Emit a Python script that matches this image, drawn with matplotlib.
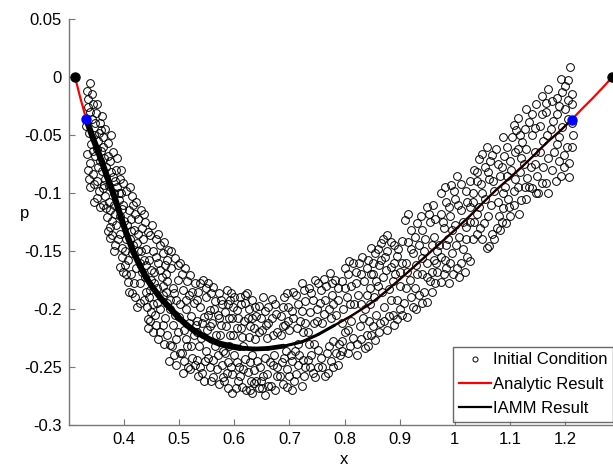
import matplotlib
matplotlib.use("Agg")
import matplotlib.pyplot as plt
from matplotlib.collections import LineCollection
import numpy as np

plt.rcParams['font.family'] = ['Liberation Sans', 'DejaVu Sans']

# ---- data ----
analytic_x = [0.311, 0.320, 0.331, 0.343, 0.3565, 0.370, 0.3837, 0.395, 0.405, 0.417, 0.429, 0.440,
              0.4525, 0.467, 0.483, 0.498, 0.514, 0.528, 0.543, 0.558, 0.574, 0.592, 0.610, 0.637,
              0.661, 0.690, 0.7225, 0.752, 0.782, 0.812, 0.842, 0.862, 0.882, 0.900, 0.918, 0.945,
              0.972, 1.000, 1.027, 1.052, 1.076, 1.100, 1.123, 1.145, 1.166, 1.190, 1.212, 1.232,
              1.250, 1.268, 1.286]
analytic_p = [0.0, -0.017, -0.036, -0.052, -0.069, -0.087, -0.105, -0.122, -0.136, -0.151, -0.163, -0.173,
              -0.182, -0.191, -0.199, -0.207, -0.214, -0.219, -0.223, -0.227, -0.230, -0.232, -0.2336, -0.2345,
              -0.234, -0.232, -0.2284, -0.222, -0.214, -0.206, -0.197, -0.190, -0.182, -0.1745, -0.167, -0.1555,
              -0.144, -0.132, -0.120, -0.108, -0.097, -0.087, -0.077, -0.067, -0.057, -0.047, -0.037, -0.027,
              -0.0185, -0.0095, 0.0]

# IAMM result: from the left boundary point to the right boundary point
iamm_x = analytic_x[2:-4]
iamm_p = analytic_p[2:-4]

end_x = [0.311, 1.286]
end_p = [0.0, 0.0]
bc_x = [0.331, 1.212]
bc_p = [-0.036, -0.037]

ic_x = [
 0.338,0.332,0.335,0.344,0.351,0.338,0.360,0.347,0.357,0.358,0.331,0.345,0.352,0.340,0.362,0.333,0.348,0.356,0.335,0.343,0.360,0.351,0.339,0.355,0.351,0.357,0.346,0.366,0.364,0.342,
 0.371,0.375,0.368,0.380,0.386,0.392,0.398,0.373,0.381,0.366,0.390,0.375,0.383,0.396,0.369,0.375,0.378,0.386,0.399,0.392,0.375,0.384,0.396,0.363,0.388,0.372,0.395,0.380,
 0.404,0.414,0.416,0.408,0.420,0.426,0.438,0.432,0.406,0.418,0.443,0.410,0.424,0.402,0.415,0.430,0.436,0.407,0.393,0.398,0.421,0.407,0.414,0.429,0.438,0.429,0.420,0.412,0.440,0.434,
 0.447,0.458,0.465,0.452,0.470,0.480,0.445,0.462,0.475,0.455,0.468,0.448,0.478,0.460,0.445,0.471,0.452,0.465,0.443,0.447,0.458,0.465,0.475,0.478,0.441,0.456,
 0.492,0.502,0.486,0.510,0.520,0.497,0.528,0.488,0.506,0.518,0.494,0.526,0.483,0.512,0.500,0.522,0.489,0.508,0.527,0.483,0.495,0.501,0.515,0.516,0.524,0.490,0.509,
 0.543,0.553,0.561,0.535,0.572,0.548,0.565,0.578,0.538,0.556,0.545,0.570,0.532,0.560,0.575,0.550,0.540,0.566,0.532,0.548,0.556,0.561,0.570,0.577,0.579,0.542,0.565,0.536,
 0.587,0.592,0.605,0.619,0.623,0.600,0.612,0.583,0.626,0.595,0.617,0.585,0.604,0.628,0.592,0.614,0.600,0.588,0.620,0.608,0.596,0.625,0.582,0.596,0.614,0.606,0.630,0.590,0.616,
 0.633,0.645,0.668,0.656,0.640,0.675,0.662,0.635,0.650,0.677,0.642,0.655,0.670,0.636,0.660,0.648,0.632,0.655,0.667,0.678,0.644,0.672,0.660,0.638,
 0.706,0.690,0.722,0.698,0.715,0.685,0.728,0.707,0.692,0.720,0.700,0.684,0.725,0.690,0.705,0.718,0.695,0.712,0.728,0.695,0.722,0.708,0.683,0.715,
 0.746,0.735,0.758,0.773,0.782,0.766,0.742,0.755,0.778,0.788,0.737,0.762,0.750,0.772,0.785,0.740,0.752,0.768,0.780,0.746,0.760,0.775,0.788,0.738,0.770,0.733,
 0.809,0.831,0.849,0.800,0.820,0.840,0.795,0.812,0.835,0.846,0.804,0.825,0.798,0.818,0.838,0.806,0.828,0.845,0.796,0.815,0.837,0.806,0.822,0.848,0.792,0.830,
 0.878,0.866,0.890,0.904,0.856,0.873,0.895,0.862,0.884,0.905,0.852,0.870,0.892,0.860,0.880,0.900,0.855,0.865,0.878,0.888,0.896,0.908,0.872,0.858,0.885,0.900,
 0.909,0.931,0.949,0.960,0.920,0.940,0.955,0.915,0.935,0.962,0.925,0.945,0.968,0.912,0.930,0.950,0.918,0.940,0.958,0.914,0.924,0.945,0.949,0.935,0.965,0.928,0.955,
 0.976,0.994,1.005,0.985,1.000,1.020,0.975,0.992,1.012,1.027,0.980,1.000,1.021,0.988,1.008,0.972,0.995,1.015,0.976,0.985,1.005,1.023,1.027,0.997,0.982,1.012,
 1.045,1.059,1.068,1.087,1.035,1.055,1.078,1.040,1.062,1.082,1.033,1.050,1.072,1.088,1.045,1.065,1.087,1.054,1.076,1.072,1.058,1.063,1.040,1.035,1.080,
 1.108,1.112,1.130,1.135,1.123,1.148,1.095,1.115,1.140,1.100,1.120,1.145,1.095,1.118,1.132,1.141,1.108,1.121,1.108,1.094,1.098,1.138,1.150,1.128,
 1.159,1.177,1.193,1.206,1.210,1.195,1.213,1.212,1.165,1.185,1.200,1.155,1.175,1.195,1.212,1.160,1.185,1.204,1.199,1.208,1.177,1.193,1.166,1.159,1.170,1.212,1.190,
 # second pass
 0.334,0.341,0.349,0.354,0.337,0.361,0.344,0.353,0.338,0.362,0.346,0.336,0.350,0.358,
 0.365,0.377,0.388,0.395,0.370,0.382,0.367,0.393,0.378,0.389,0.370,0.398,0.362,0.384,0.397,0.381,0.391,0.376,
 0.410,0.422,0.430,0.412,0.437,0.425,0.403,0.416,0.440,0.428,0.403,0.418,0.433,0.408,0.423,0.436,0.401,0.426,0.413,0.439,
 0.450,0.462,0.473,0.457,0.478,0.449,0.466,0.476,0.454,0.470,0.447,0.478,0.460,0.449,0.470,0.452,0.462,0.472,0.444,0.476,
 0.486,0.497,0.515,0.505,0.524,0.491,0.512,0.484,0.502,0.518,0.493,0.530,0.497,0.512,0.522,0.487,0.505,0.495,0.520,0.528,0.506,0.482,
 0.538,0.557,0.549,0.575,0.533,0.563,0.552,0.541,0.573,0.555,0.533,0.574,0.547,0.537,0.553,0.568,0.558,0.545,0.572,0.534,0.562,0.579,
 0.594,0.610,0.598,0.620,0.588,0.607,0.624,0.590,0.612,0.598,0.627,0.583,0.604,0.594,0.616,0.628,0.587,0.603,0.621,0.610,0.588,0.628,
 0.638,0.652,0.662,0.674,0.648,0.668,0.633,0.657,0.644,0.670,0.632,0.646,0.664,0.677,0.652,0.640,0.662,0.673,0.650,0.635,
 0.695,0.712,0.726,0.688,0.705,0.722,0.697,0.713,0.728,0.688,0.702,0.686,0.724,0.700,0.716,0.688,0.704,0.726,0.694,0.710,
 0.752,0.762,0.778,0.740,0.788,0.750,0.765,0.780,0.745,0.760,0.776,0.735,0.745,0.758,0.772,0.785,0.752,0.765,0.780,0.742,0.734,0.790,
 0.815,0.826,0.843,0.806,0.830,0.848,0.800,0.820,0.840,0.810,0.830,0.846,0.795,0.812,0.834,0.800,0.822,0.840,0.810,0.795,0.843,
 0.870,0.884,0.898,0.860,0.878,0.866,0.890,0.852,0.876,0.900,0.858,0.888,0.868,0.854,0.895,0.880,0.862,0.872,0.890,0.904,0.852,
 0.916,0.938,0.954,0.965,0.928,0.946,0.958,0.920,0.940,0.962,0.914,0.932,0.950,0.968,0.920,0.940,0.958,0.912,0.930,0.966,
 0.982,0.998,1.012,1.028,0.990,1.006,1.022,0.978,0.995,1.015,1.028,0.985,1.002,1.020,0.975,0.992,1.018,0.980,0.990,1.008,
 1.050,1.064,1.075,1.090,1.040,1.060,1.085,1.048,1.070,1.034,1.055,1.078,1.040,1.060,1.085,1.046,1.068,1.050,1.082,1.034,
 1.115,1.140,1.128,1.104,1.118,1.146,1.110,1.130,1.103,1.126,1.145,1.110,1.135,1.114,1.092,1.130,1.100,1.116,1.148,1.096,
 1.170,1.185,1.200,1.165,1.190,1.205,1.158,1.178,1.205,1.168,1.190,1.215,1.155,1.180,1.198,1.160,1.183,1.170,1.208,1.152,
]
ic_p = [
 -0.005,-0.012,-0.019,-0.023,-0.023,-0.030,-0.034,-0.040,-0.040,-0.046,-0.042,-0.050,-0.055,-0.058,-0.060,-0.066,-0.068,-0.072,-0.080,-0.084,-0.081,-0.090,-0.095,-0.098,-0.104,-0.112,-0.108,-0.088,-0.070,-0.036,
 -0.057,-0.072,-0.078,-0.065,-0.080,-0.088,-0.091,-0.094,-0.100,-0.103,-0.106,-0.115,-0.118,-0.114,-0.121,-0.129,-0.136,-0.128,-0.124,-0.135,-0.139,-0.145,-0.147,-0.093,-0.095,-0.108,-0.100,-0.086,
 -0.098,-0.103,-0.110,-0.115,-0.118,-0.122,-0.125,-0.130,-0.128,-0.132,-0.134,-0.140,-0.143,-0.150,-0.152,-0.150,-0.158,-0.158,-0.164,-0.168,-0.165,-0.177,-0.186,-0.178,-0.172,-0.195,-0.190,-0.170,-0.185,-0.140,
 -0.136,-0.140,-0.145,-0.150,-0.152,-0.149,-0.158,-0.160,-0.162,-0.168,-0.172,-0.175,-0.176,-0.182,-0.190,-0.188,-0.196,-0.200,-0.209,-0.210,-0.214,-0.220,-0.208,-0.222,-0.198,-0.205,
 -0.156,-0.160,-0.165,-0.165,-0.171,-0.175,-0.178,-0.182,-0.184,-0.188,-0.192,-0.195,-0.200,-0.200,-0.207,-0.206,-0.214,-0.218,-0.222,-0.231,-0.226,-0.238,-0.232,-0.250,-0.242,-0.240,-0.245,
 -0.175,-0.178,-0.181,-0.185,-0.186,-0.190,-0.193,-0.196,-0.198,-0.201,-0.207,-0.205,-0.210,-0.212,-0.214,-0.218,-0.225,-0.222,-0.244,-0.236,-0.250,-0.259,-0.240,-0.248,-0.259,-0.255,-0.232,-0.232,
 -0.184,-0.192,-0.201,-0.188,-0.186,-0.190,-0.196,-0.203,-0.200,-0.208,-0.210,-0.215,-0.216,-0.215,-0.222,-0.224,-0.240,-0.246,-0.243,-0.250,-0.256,-0.254,-0.262,-0.272,-0.267,-0.262,-0.262,-0.232,-0.232,
 -0.192,-0.197,-0.191,-0.202,-0.206,-0.204,-0.212,-0.216,-0.218,-0.220,-0.245,-0.242,-0.248,-0.253,-0.256,-0.262,-0.272,-0.274,-0.266,-0.258,-0.268,-0.240,-0.225,-0.226,
 -0.185,-0.190,-0.178,-0.198,-0.196,-0.206,-0.193,-0.208,-0.214,-0.210,-0.218,-0.222,-0.220,-0.242,-0.245,-0.240,-0.252,-0.256,-0.250,-0.267,-0.266,-0.262,-0.258,-0.230,
 -0.175,-0.182,-0.184,-0.169,-0.175,-0.180,-0.192,-0.195,-0.188,-0.192,-0.203,-0.204,-0.210,-0.200,-0.205,-0.240,-0.235,-0.238,-0.228,-0.259,-0.250,-0.245,-0.248,-0.250,-0.255,-0.220,
 -0.159,-0.155,-0.147,-0.165,-0.168,-0.165,-0.176,-0.180,-0.176,-0.182,-0.190,-0.188,-0.200,-0.196,-0.200,-0.218,-0.215,-0.210,-0.228,-0.225,-0.234,-0.238,-0.240,-0.222,-0.240,-0.226,
 -0.136,-0.143,-0.145,-0.141,-0.152,-0.155,-0.154,-0.162,-0.164,-0.160,-0.170,-0.172,-0.170,-0.180,-0.183,-0.180,-0.227,-0.212,-0.218,-0.205,-0.209,-0.195,-0.198,-0.205,-0.192,-0.200,
 -0.123,-0.126,-0.112,-0.110,-0.132,-0.132,-0.125,-0.142,-0.145,-0.138,-0.152,-0.150,-0.150,-0.160,-0.162,-0.160,-0.175,-0.170,-0.168,-0.207,-0.198,-0.185,-0.194,-0.188,-0.178,-0.182,-0.176,
 -0.100,-0.093,-0.085,-0.108,-0.105,-0.098,-0.118,-0.120,-0.115,-0.112,-0.130,-0.128,-0.129,-0.140,-0.138,-0.145,-0.152,-0.148,-0.177,-0.165,-0.165,-0.155,-0.159,-0.170,-0.158,-0.160,
 -0.071,-0.060,-0.067,-0.052,-0.080,-0.078,-0.075,-0.090,-0.088,-0.085,-0.100,-0.100,-0.098,-0.100,-0.112,-0.110,-0.113,-0.126,-0.130,-0.140,-0.147,-0.146,-0.135,-0.125,-0.120,
 -0.041,-0.046,-0.028,-0.039,-0.056,-0.023,-0.060,-0.062,-0.050,-0.072,-0.070,-0.065,-0.085,-0.082,-0.087,-0.096,-0.098,-0.106,-0.110,-0.126,-0.112,-0.078,-0.085,-0.095,
 -0.016,-0.021,-0.002,-0.003,0.009,-0.013,-0.015,-0.023,-0.030,-0.032,-0.028,-0.042,-0.045,-0.043,-0.040,-0.055,-0.058,-0.060,-0.067,-0.074,-0.080,-0.085,-0.091,-0.091,-0.070,-0.060,-0.072,
 # second pass
 -0.026,-0.015,-0.031,-0.048,-0.048,-0.052,-0.064,-0.078,-0.074,-0.096,-0.092,-0.088,-0.062,-0.064,
 -0.045,-0.050,-0.070,-0.080,-0.068,-0.110,-0.113,-0.120,-0.124,-0.140,-0.133,-0.110,-0.110,-0.090,-0.155,-0.150,-0.100,-0.082,
 -0.095,-0.108,-0.115,-0.122,-0.118,-0.135,-0.140,-0.145,-0.148,-0.160,-0.170,-0.178,-0.168,-0.185,-0.198,-0.192,-0.162,-0.150,-0.133,-0.162,
 -0.128,-0.135,-0.142,-0.155,-0.158,-0.166,-0.166,-0.170,-0.178,-0.180,-0.184,-0.195,-0.195,-0.203,-0.214,-0.220,-0.226,-0.230,-0.216,-0.185,
 -0.150,-0.162,-0.176,-0.170,-0.185,-0.186,-0.192,-0.192,-0.196,-0.212,-0.205,-0.214,-0.220,-0.226,-0.232,-0.232,-0.238,-0.248,-0.252,-0.248,-0.255,-0.245,
 -0.178,-0.186,-0.182,-0.192,-0.192,-0.200,-0.205,-0.212,-0.208,-0.215,-0.220,-0.222,-0.245,-0.250,-0.242,-0.252,-0.262,-0.262,-0.265,-0.258,-0.244,-0.236,
 -0.186,-0.190,-0.198,-0.195,-0.196,-0.208,-0.208,-0.208,-0.216,-0.222,-0.224,-0.238,-0.246,-0.250,-0.252,-0.246,-0.255,-0.268,-0.270,-0.258,-0.268,-0.270,
 -0.198,-0.190,-0.198,-0.196,-0.208,-0.208,-0.208,-0.214,-0.220,-0.222,-0.240,-0.250,-0.246,-0.250,-0.258,-0.262,-0.266,-0.270,-0.268,-0.264,
 -0.186,-0.188,-0.184,-0.198,-0.202,-0.202,-0.210,-0.216,-0.212,-0.215,-0.240,-0.246,-0.244,-0.258,-0.248,-0.265,-0.270,-0.258,-0.236,-0.236,
 -0.178,-0.174,-0.178,-0.186,-0.182,-0.200,-0.192,-0.196,-0.212,-0.212,-0.208,-0.230,-0.230,-0.242,-0.232,-0.238,-0.250,-0.258,-0.250,-0.255,-0.244,-0.230,
 -0.160,-0.160,-0.158,-0.170,-0.170,-0.170,-0.182,-0.178,-0.188,-0.196,-0.196,-0.196,-0.212,-0.210,-0.208,-0.220,-0.230,-0.222,-0.232,-0.236,-0.232,
 -0.140,-0.142,-0.148,-0.148,-0.150,-0.158,-0.160,-0.160,-0.166,-0.168,-0.176,-0.176,-0.185,-0.190,-0.192,-0.206,-0.220,-0.210,-0.214,-0.205,-0.215,
 -0.118,-0.120,-0.118,-0.122,-0.138,-0.140,-0.145,-0.148,-0.156,-0.158,-0.168,-0.170,-0.172,-0.168,-0.190,-0.195,-0.185,-0.182,-0.200,-0.160,
 -0.095,-0.098,-0.092,-0.090,-0.112,-0.110,-0.108,-0.125,-0.132,-0.125,-0.125,-0.145,-0.145,-0.140,-0.155,-0.160,-0.168,-0.170,-0.178,-0.172,
 -0.066,-0.072,-0.062,-0.068,-0.082,-0.082,-0.078,-0.092,-0.090,-0.108,-0.105,-0.108,-0.118,-0.120,-0.125,-0.130,-0.135,-0.140,-0.132,-0.140,
 -0.035,-0.032,-0.045,-0.052,-0.050,-0.044,-0.065,-0.062,-0.080,-0.075,-0.075,-0.088,-0.095,-0.095,-0.095,-0.105,-0.120,-0.118,-0.100,-0.105,
 -0.010,-0.018,-0.008,-0.022,-0.025,-0.020,-0.032,-0.038,-0.036,-0.050,-0.052,-0.050,-0.065,-0.065,-0.078,-0.078,-0.090,-0.100,-0.086,-0.100,
]

x_ticks = [0.4, 0.5, 0.6, 0.7, 0.8, 0.9, 1.0, 1.1, 1.2]
x_ticklabels = ['0.4', '0.5', '0.6', '0.7', '0.8', '0.9', '1', '1.1', '1.2']
y_ticks = [-0.3, -0.25, -0.2, -0.15, -0.1, -0.05, 0.0, 0.05]
y_ticklabels = ['-0.3', '-0.25', '-0.2', '-0.15', '-0.1', '-0.05', '0', '0.05']

# ---- figure ----
W, H = 613, 468
fig = plt.figure(figsize=(W / 100, H / 100), dpi=100)
ax = fig.add_axes([69 / W, (H - 425) / H, (620 - 69) / W, (425 - 19) / H])

ax.plot(ic_x, ic_p, linestyle='none', marker='o', markersize=5.6,
        markerfacecolor='none', markeredgecolor='black', markeredgewidth=0.7,
        label='Initial Condition', zorder=2)
ax.plot(analytic_x, analytic_p, color='#ff0000', lw=1.6, label='Analytic Result', zorder=3)

# IAMM line drawn thicker where its points are dense (left part), thinner on the right
pts = np.column_stack([iamm_x, iamm_p])
segs = np.stack([pts[:-1], pts[1:]], axis=1)
seg_mid = 0.5 * (pts[:-1, 0] + pts[1:, 0])
widths = np.where(seg_mid < 0.62, 4.4,
         np.where(seg_mid < 0.70, 3.4,
         np.where(seg_mid < 0.78, 2.2, 1.5)))
lc = LineCollection(segs, colors='black', linewidths=widths,
                    capstyle='round', joinstyle='round', zorder=4)
ax.add_collection(lc)
ax.plot([], [], color='black', lw=1.6, label='IAMM Result')

ax.plot(end_x, end_p, linestyle='none', marker='o', markersize=6.5, color='black', zorder=5,
        clip_on=False)
ax.plot(bc_x, bc_p, linestyle='none', marker='o', markersize=6.5, color='#0000ff', zorder=6)

ax.set_xlim(0.3, 1.3)
ax.set_ylim(-0.3, 0.05)
ax.set_xticks(x_ticks)
ax.set_xticklabels(x_ticklabels)
ax.set_yticks(y_ticks)
ax.set_yticklabels(y_ticklabels)

for s in ['top', 'right']:
    ax.spines[s].set_visible(False)
for s in ['left', 'bottom']:
    ax.spines[s].set_color('#777777')
    ax.spines[s].set_linewidth(1.0)
ax.tick_params(direction='in', length=4, width=0.8, color='#777777',
               labelsize=12, labelcolor='black', pad=5)

ax.set_xlabel('x', fontsize=12, va='center')
ax.set_ylabel('p', fontsize=12, rotation=0, va='center', ha='center')
ax.yaxis.set_label_coords(-0.08, 0.52)
ax.xaxis.set_label_coords(0.5, -0.086)

leg = ax.legend(loc='lower left', bbox_to_anchor=(453 / W, (H - 422) / H),
                bbox_transform=fig.transFigure, borderaxespad=0, fontsize=12,
                frameon=True, fancybox=False, numpoints=1, handlelength=1.9,
                handletextpad=0.15, borderpad=0.35, labelspacing=0.56, markerscale=0.65)
leg.get_frame().set_edgecolor('#444444')
leg.get_frame().set_linewidth(1.0)

fig.savefig('out.png', dpi=100)
